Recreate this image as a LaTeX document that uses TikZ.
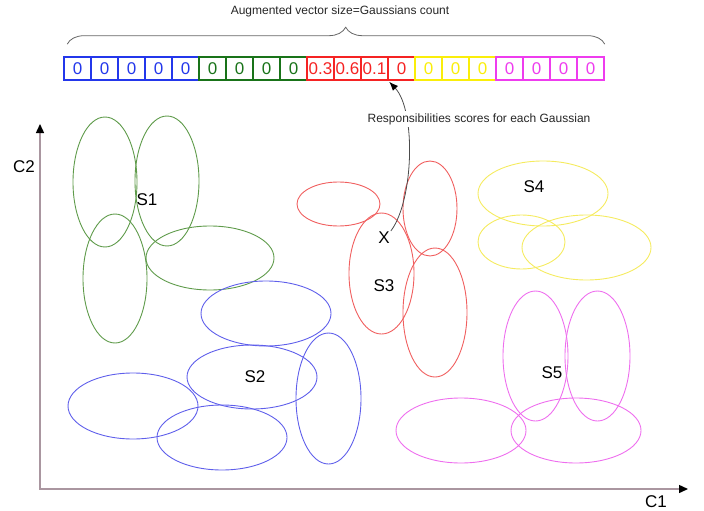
\documentclass[tikz,border=0pt]{standalone}
\usepackage{fontspec}
\setmainfont{Liberation Sans}
\usetikzlibrary{arrows.meta, decorations.pathreplacing}

% vector cell colours
\definecolor{vblue}{RGB}{35,55,235}
\definecolor{vgreen}{RGB}{25,115,25}
\definecolor{vred}{RGB}{245,35,35}
\definecolor{vyellow}{RGB}{250,238,10}
\definecolor{vmagenta}{RGB}{238,60,238}
% cluster ellipse colours
\definecolor{egreen}{RGB}{95,155,75}
\definecolor{eblue}{RGB}{95,95,235}
\definecolor{ered}{RGB}{240,95,95}
\definecolor{eyellow}{RGB}{245,235,95}
\definecolor{emagenta}{RGB}{238,110,238}
\definecolor{axisgray}{RGB}{170,150,160}

\tikzset{
    cell/.style={draw, line width=1.6pt, minimum width=27pt, minimum height=23pt,
                 inner sep=0pt, font=\fontsize{17}{17}\selectfont},
    clus/.style={line width=0.9pt},
    lab/.style={font=\fontsize{17}{17}\selectfont},
    note/.style={font=\fontsize{12}{14}\selectfont, text=black!85}
}

\begin{document}
\begin{tikzpicture}[x=1pt, y=-1pt]
    \useasboundingbox (0,0) rectangle (704,511);

    % Augmented vector: one cell per Gaussian, c0 ... c19
    \foreach \v/\c [count=\i from 0] in {0/vblue,0/vblue,0/vblue,0/vblue,0/vblue,
            0/vgreen,0/vgreen,0/vgreen,0/vgreen,
            0.3/vred,0.6/vred,0.1/vred,0/vred,
            0/vyellow,0/vyellow,0/vyellow,
            0/vmagenta,0/vmagenta,0/vmagenta,0/vmagenta} {
        \node[cell, draw=\c, text=\c] (c\i) at ({77.5+27*\i}, 68.5) {\v};
    }

    % brace over the vector and its caption
    \draw[decorate, decoration={brace, amplitude=17pt, aspect=0.518}, black!60, line width=0.8pt]
        ([xshift=4pt, yshift=12pt] c0.north west) -- ([yshift=12pt] c19.north east);
    \node[note] (title) at (340,11) {Augmented vector size=Gaussians count};

    % axes
    \coordinate (ytop) at (40,124);
    \coordinate (orig) at (40,489);
    \coordinate (xend) at (688,489);
    \draw[axisgray, line width=1.4pt, {Triangle[length=9pt, width=8pt, black]}-{Triangle[length=9pt, width=8pt, black]}]
        (ytop) -- (orig) -- (xend);
    \node[lab] (c2lab) at (24,167) {C2};
    \node[lab] (c1lab) at (656,502) {C1};

    % S1: green Gaussians
    \draw[clus, egreen] (105,182) ellipse [x radius=32, y radius=65];
    \draw[clus, egreen] (167,181) ellipse [x radius=32, y radius=65];
    \draw[clus, egreen] (115,278.5) ellipse [x radius=32, y radius=64.5];
    \draw[clus, egreen] (210,258) ellipse [x radius=64, y radius=32];
    \node[lab] (s1) at (147,200) {S1};

    % S2: blue Gaussians
    \draw[clus, eblue] (266,313.5) ellipse [x radius=65, y radius=32.5];
    \draw[clus, eblue] (252,377) ellipse [x radius=65, y radius=32];
    \draw[clus, eblue] (133,406) ellipse [x radius=65, y radius=33];
    \draw[clus, eblue] (222,437.5) ellipse [x radius=65, y radius=32.5];
    \draw[clus, eblue] (328.5,398.5) ellipse [x radius=32.5, y radius=65.5];
    \node[lab] (s2) at (255,377) {S2};

    % S3: red Gaussians
    \draw[clus, ered] (338.5,204) ellipse [x radius=41.5, y radius=22];
    \draw[clus, ered] (430,208.5) ellipse [x radius=27, y radius=47.5];
    \draw[clus, ered] (381.5,273.5) ellipse [x radius=32.5, y radius=60.5];
    \draw[clus, ered] (435,312.5) ellipse [x radius=32, y radius=64.5];
    \node[lab] (s3) at (384,286) {S3};
    \node[lab, inner sep=1pt] (xpt) at (384,238) {X};

    % S4: yellow Gaussians
    \draw[clus, eyellow] (543,193.5) ellipse [x radius=65, y radius=32.5];
    \draw[clus, eyellow] (521.5,242) ellipse [x radius=43.5, y radius=27];
    \draw[clus, eyellow] (586.5,247.5) ellipse [x radius=64.5, y radius=32.5];
    \node[lab] (s4) at (534,187) {S4};

    % S5: magenta Gaussians
    \draw[clus, emagenta] (535.5,356) ellipse [x radius=32.5, y radius=65];
    \draw[clus, emagenta] (597.5,356) ellipse [x radius=32.5, y radius=65];
    \draw[clus, emagenta] (461,430.5) ellipse [x radius=65, y radius=32.5];
    \draw[clus, emagenta] (576,430.5) ellipse [x radius=65, y radius=32.5];
    \node[lab] (s5) at (552,373) {S5};

    % responsibilities of X go into the vector
    \coordinate (rtip) at ([xshift=2pt, yshift=-1pt] c12.south west);
    \draw[black!70, line width=0.8pt, -{Latex[length=9pt, width=7pt, black]}]
        (xpt.north east) .. controls (414,200) and (416,110) .. (rtip);
    \node[note, fill=white, inner sep=2pt] (resp) at (479,119) {Responsibilities scores for each Gaussian};
\end{tikzpicture}
\end{document}
